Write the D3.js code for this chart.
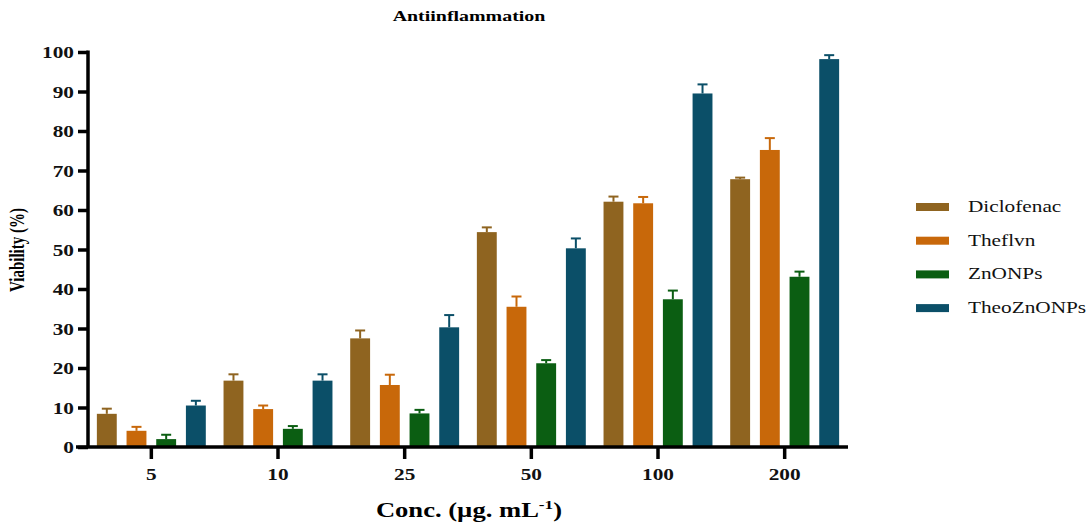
<!DOCTYPE html>
<html>
<head>
<meta charset="utf-8">
<script src="https://cdn.jsdelivr.net/npm/d3@7"></script>
<style>
  body { margin: 0; background: #fff; }
  svg { display: block; }
  svg text { font-family: 'Liberation Serif', serif; }
</style>
</head>
<body>
<div class="chart"></div>
<script>
var concentrations = ["5", "10", "25", "50", "100", "200"];
var seriesNames = ["Diclofenac", "Theflvn", "ZnONPs", "TheoZnONPs"];
var seriesColors = ["#8f6420", "#c8680a", "#0b5e12", "#0b4f68"];

// mean values per series, one per concentration
var diclofenac = [8.4, 16.8, 27.5, 54.4, 62.1, 67.8];
var theflvn    = [4.1, 9.6, 15.7, 35.5, 61.7, 75.2];
var znonps     = [2.0, 4.6, 8.5, 21.2, 37.4, 43.1];
var theozn     = [10.5, 16.8, 30.3, 50.3, 89.5, 98.2];

// upper error (SD)
var diclofenacErr = [1.3, 1.6, 2.0, 1.2, 1.3, 0.4];
var theflvnErr    = [1.0, 0.9, 2.6, 2.6, 1.6, 3.0];
var znonpsErr     = [1.1, 0.7, 0.9, 0.8, 2.2, 1.3];
var theoznErr     = [1.2, 1.6, 3.1, 2.5, 2.3, 1.0];

var yTicks = [0, 10, 20, 30, 40, 50, 60, 70, 80, 90, 100];

var means = [diclofenac, theflvn, znonps, theozn];
var errs = [diclofenacErr, theflvnErr, znonpsErr, theoznErr];

var w = 1087, h = 526;
var margin = {top: 52, left: 88, right: 239, bottom: 79};
var serif = "'Liberation Serif', serif";
var sx = 1.33; // original figure text is stretched sideways

var svg = d3.select("div.chart").append("svg")
    .attr("width", w).attr("height", h)
    .attr("font-family", serif);

//stretch text horizontally, keeping its anchor point
function stretch(sel){
    sel.each(function(){
        var t = d3.select(this);
        var x = +t.attr("x") || 0;
        var y = +t.attr("y") || 0;
        t.attr("x", 0).attr("y", 0)
         .attr("transform", `translate(${x},${y}) scale(${sx},1)`);
    });
}

var x0 = d3.scaleBand()
    .domain(concentrations)
    .range([margin.left, w - margin.right])
    .paddingInner(0.14)
    .paddingOuter(0.07);

var x1 = d3.scaleBand()
    .domain(seriesNames)
    .range([0, x0.bandwidth()])
    .paddingInner(0.33);

var y = d3.scaleLinear()
    .domain([0, 100])
    .range([h - margin.bottom, margin.top]);

// flatten into one record per bar
var bars = [];
concentrations.forEach(function(c, i){
    seriesNames.forEach(function(s, j){
        bars.push({conc: c, series: s, value: means[j][i], err: errs[j][i], color: seriesColors[j]});
    });
});

var g = svg.append("g");

g.selectAll("rect.bar")
    .data(bars)
    .enter()
    .append("rect")
        .attr("class", "bar")
        .attr("x", d => x0(d.conc) + x1(d.series))
        .attr("y", d => y(d.value))
        .attr("width", x1.bandwidth())
        .attr("height", d => y(0) - y(d.value))
        .attr("fill", d => d.color);

//error bars, upper only
var eb = g.selectAll("g.err")
    .data(bars)
    .enter()
    .append("g")
        .attr("class", "err")
        .attr("stroke", d => d.color)
        .attr("stroke-width", 2);

eb.append("line")
    .attr("x1", d => x0(d.conc) + x1(d.series) + x1.bandwidth() / 2)
    .attr("x2", d => x0(d.conc) + x1(d.series) + x1.bandwidth() / 2)
    .attr("y1", d => y(d.value))
    .attr("y2", d => y(d.value + d.err));

eb.append("line")
    .attr("x1", d => x0(d.conc) + x1(d.series) + x1.bandwidth() / 2 - 5)
    .attr("x2", d => x0(d.conc) + x1(d.series) + x1.bandwidth() / 2 + 5)
    .attr("y1", d => y(d.value + d.err))
    .attr("y2", d => y(d.value + d.err));

//axes
var yAxis = svg.append("g")
    .attr("transform", `translate(${margin.left},0)`)
    .call(d3.axisLeft(y).tickValues(yTicks).tickSize(10).tickPadding(4));

var xAxis = svg.append("g")
    .attr("transform", `translate(0,${y(0)})`)
    .call(d3.axisBottom(x0).tickSize(12).tickPadding(10).tickSizeOuter(0));

[yAxis, xAxis].forEach(function(a){
    a.attr("font-family", serif);
    a.select(".domain").attr("stroke", "#000").attr("stroke-width", 3.5);
    a.selectAll(".tick line").attr("stroke", "#000").attr("stroke-width", 3.5);
    a.selectAll(".tick text")
        .attr("fill", "#111")
        .attr("font-size", 16)
        .attr("font-weight", "bold");
});
yAxis.selectAll(".tick text").attr("dy", null).attr("y", 5.5).call(stretch);
xAxis.selectAll(".tick text").attr("dy", null).attr("y", 33).call(stretch);
yAxis.select(".domain").attr("d", `M0,${y(0)}V${y(100) - 1.5}`);
xAxis.select(".domain").attr("d", `M${margin.left - 12},0H${w - margin.right}`);

//titles
svg.append("text")
    .attr("x", 469).attr("y", 21)
    .attr("text-anchor", "middle")
    .attr("font-size", 15).attr("font-weight", "bold")
    .text("Antiinflammation")
    .call(stretch);

var xl = svg.append("text")
    .attr("x", 469).attr("y", 517)
    .attr("text-anchor", "middle")
    .attr("font-size", 20).attr("font-weight", "bold");
xl.append("tspan").text("Conc. (\u00b5g. mL");
xl.append("tspan").attr("dy", -8).attr("font-size", 13).text("-1");
xl.append("tspan").attr("dy", 8).text(")");
xl.call(stretch);

svg.append("text")
    .attr("transform", `translate(24,250) scale(${sx},1) rotate(-90)`)
    .attr("text-anchor", "middle")
    .attr("font-size", 15).attr("font-weight", "bold")
    .text("Viability (%)");

//legend
var legend = svg.append("g")
    .attr("transform", "translate(916,207)")
    .selectAll("g")
    .data(seriesNames)
    .enter()
    .append("g")
        .attr("transform", (d, i) => `translate(0,${i * 33.7})`);

legend.append("rect")
    .attr("x", 0).attr("y", -4)
    .attr("width", 33).attr("height", 8)
    .attr("fill", (d, i) => seriesColors[i]);

legend.append("text")
    .attr("x", 52).attr("y", 5)
    .attr("font-size", 16)
    .attr("fill", "#111")
    .text(d => d)
    .call(stretch);
</script>
</body>
</html>
